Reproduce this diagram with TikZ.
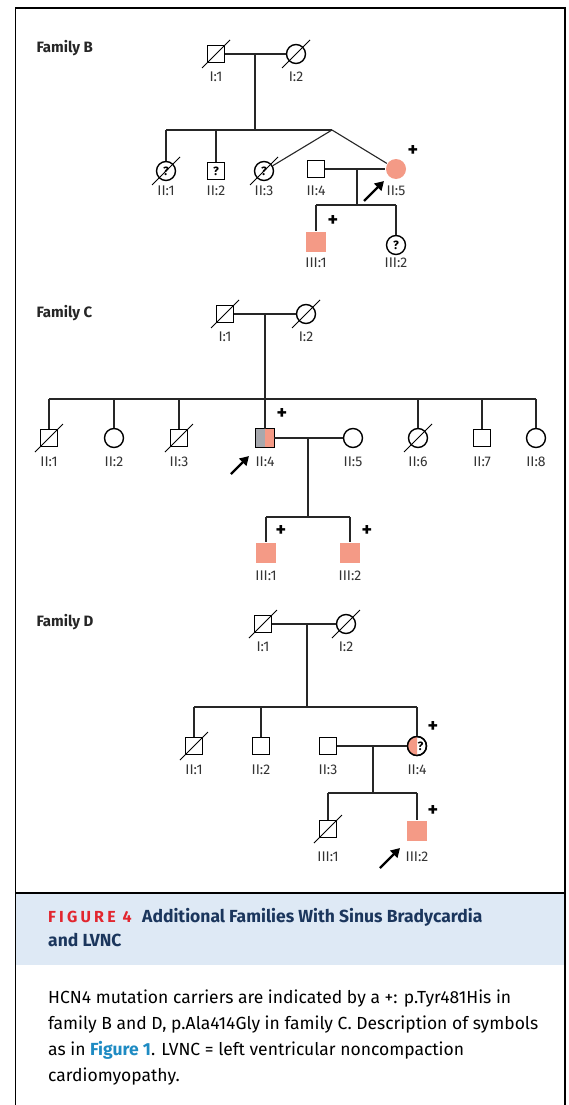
\documentclass[tikz,border=0pt]{standalone}
\usepackage{fontspec}
\setmainfont{Fira Sans}
\usetikzlibrary{arrows.meta}
\definecolor{salmon}{HTML}{F49A86}
\definecolor{affgray}{HTML}{A7A8AD}
\definecolor{capblue}{HTML}{DEE9F5}
\definecolor{figred}{HTML}{E2262F}
\definecolor{navy}{HTML}{1B365D}
\definecolor{linkblue}{HTML}{1E8BC3}
\newcommand\dslash[1]{\draw[decl] ([shift={(-14,14)}]#1.center) -- ([shift={(14,-14)}]#1.center);}
\newcommand\plab[3]{\node[lbl] (l#1) at ([shift={(0,#3)}]#1.center) {#2};}
\begin{document}
\begin{tikzpicture}[x=1pt,y=-1pt,
  sym/.style={draw=black,line width=1.4pt,inner sep=0pt,font=\bfseries\fontsize{12}{12}\selectfont},
  male/.style={sym,rectangle,minimum size=17.5pt},
  female/.style={sym,circle,minimum size=19pt},
  aff/.style={fill=salmon,draw=none,minimum size=20pt},
  rel/.style={line width=1.1pt,draw=black!85},
  decl/.style={line width=0.9pt,draw=black},
  lbl/.style={font=\fontsize{14}{15}\selectfont,text=black!80},
  pl/.style={font=\bfseries\fontsize{20}{20}\selectfont},
  prob/.style={line width=2.3pt,-{Triangle[length=9pt,width=10pt]}},
  fam/.style={font=\bfseries\fontsize{15}{16}\selectfont,text=black!85,anchor=west}]
\useasboundingbox (0,0) rectangle (568,1105);
\fill[white] (0,0) rectangle (568,1105);
% frame and caption
\fill[capblue] (16.3,893.8) rectangle (564.2,965);
\draw[line width=1.6pt] (15.5,1105) -- (15.5,8) -- (565,8) -- (565,1105);
\draw[line width=1.3pt] (15.5,893) -- (565,893);
\node[anchor=base west,inner sep=0pt,font=\bfseries\fontsize{17.5}{18}\selectfont] (capT) at (48,922)
  {{\color{figred}\fontsize{16}{18}\selectfont\addfontfeatures{LetterSpace=20}FIGURE 4}\hspace{0.6em}{\color{navy}Additional Families With Sinus Bradycardia}};
\node[anchor=base west,inner sep=0pt,font=\bfseries\fontsize{17.5}{18}\selectfont,text=navy] (capT2) at (48,946) {and LVNC};
\node[anchor=base west,inner sep=0pt,font=\fontsize{17.5}{18}\selectfont] (cap1) at (48,1003) {HCN4 mutation carriers are indicated by a +: p.Tyr481His in};
\node[anchor=base west,inner sep=0pt,font=\fontsize{17.5}{18}\selectfont] (cap2) at (48,1029) {family B and D, p.Ala414Gly in family C. Description of symbols};
\node[anchor=base west,inner sep=0pt,font=\fontsize{17.5}{18}\selectfont] (cap3) at (48,1055) {as in {\color{linkblue}\bfseries Figure 1}. LVNC = left ventricular noncompaction};
\node[anchor=base west,inner sep=0pt,font=\fontsize{17.5}{18}\selectfont] (cap4) at (48,1081) {cardiomyopathy.};

% ---------------- Family B
\node[fam] (famB) at (33,48) {Family B};
\node[male] (BI1) at (216,54) {};
\node[female] (BI2) at (296,54) {};
\dslash{BI1}\dslash{BI2}
\coordinate (Bm1) at (255,54);
\coordinate (Bs1) at (255,130);
\coordinate (BsL) at (166,130);
\coordinate (Btw) at (332,130);
\draw[rel] (BI1) -- (BI2);
\draw[rel] (Bm1) -- (Bs1);
\draw[rel] (BsL) -- (Btw);
\node[female] (BII1) at (166,171) {?};
\node[male] (BII2) at (216,171) {?};
\node[female] (BII3) at (264,171) {?};
\node[male] (BII4) at (316,169) {};
\node[female,aff] (BII5) at (396,169) {};
\draw[rel] (BsL) -- (BII1);
\draw[rel] (BII2) -- (BII2 |- Bs1);
\draw[rel] (Btw) -- (BII3);
\draw[rel] (Btw) -- (BII5);
\dslash{BII1}\dslash{BII3}
\draw[rel] (BII4) -- (BII5);
\coordinate (Bm2) at (357,169);
\coordinate (Bs2) at (357,205);
\coordinate (Bs2L) at (316,205);
\coordinate (Bs2R) at (396,205);
\draw[rel] (Bm2) -- (Bs2);
\draw[rel] (Bs2L) -- (Bs2R);
\node[male,aff] (BIII1) at (316,242) {};
\node[female] (BIII2) at (396,245) {?};
\draw[rel] (Bs2L) -- (BIII1);
\draw[rel] (Bs2R) -- (BIII2);
\plab{BI1}{I:1}{23}\plab{BI2}{I:2}{23}
\plab{BII1}{II:1}{20}\plab{BII2}{II:2}{20}\plab{BII3}{II:3}{20}
\plab{BII4}{II:4}{22}\plab{BII5}{II:5}{22}
\plab{BIII1}{III:1}{21}\plab{BIII2}{III:2}{18}
\node[pl] (pB5) at (413,151) {+};
\node[pl] (pB31) at (333,221) {+};
\coordinate (aBt) at (364,201);
\coordinate (aBh) at (384,181);
\draw[prob] (aBt) -- (aBh);

% ---------------- Family C
\node[fam] (famC) at (33,313) {Family C};
\node[male] (CI1) at (225,314) {};
\node[female] (CI2) at (306,314) {};
\dslash{CI1}\dslash{CI2}
\draw[rel] (CI1) -- (CI2);
\coordinate (Cm1) at (265,314);
\coordinate (Cs1) at (265,399);
\coordinate (CsL) at (49,399);
\coordinate (CsR) at (536,399);
\draw[rel] (Cm1) -- (Cs1);
\draw[rel] (CsL) -- (CsR);
\node[male] (CII1) at (49,438) {};
\node[female] (CII2) at (114,438) {};
\node[male] (CII3) at (179,438) {};
\node[male] (CII4) at (265,438) {};
\node[female] (CII5) at (353,438) {};
\node[female] (CII6) at (418,438) {};
\node[male] (CII7) at (482,438) {};
\node[female] (CII8) at (536,438) {};
\fill[affgray] (CII4.south west) rectangle (CII4.north);
\fill[salmon] (CII4.north) rectangle (CII4.south east);
\draw[line width=1.4pt] (CII4.south west) rectangle (CII4.north east);
\foreach \n in {CII1,CII2,CII3,CII4,CII6,CII7,CII8} {\draw[rel] (\n) -- (\n |- Cs1);}
\dslash{CII1}\dslash{CII3}\dslash{CII6}
\draw[rel] (CII4) -- (CII5);
\coordinate (Cm2) at (308,438);
\coordinate (Cs2) at (308,517);
\coordinate (Cs2L) at (266,517);
\coordinate (Cs2R) at (350,517);
\draw[rel] (Cm2) -- (Cs2);
\draw[rel] (Cs2L) -- (Cs2R);
\node[male,aff] (CIII1) at (266,553) {};
\node[male,aff] (CIII2) at (350,553) {};
\draw[rel] (Cs2L) -- (CIII1);
\draw[rel] (Cs2R) -- (CIII2);
\plab{CI1}{I:1}{23}\plab{CI2}{I:2}{23}
\plab{CII1}{II:1}{24}\plab{CII2}{II:2}{24}\plab{CII3}{II:3}{24}\plab{CII4}{II:4}{24}
\plab{CII5}{II:5}{24}\plab{CII6}{II:6}{24}\plab{CII7}{II:7}{24}\plab{CII8}{II:8}{24}
\plab{CIII1}{III:1}{23}\plab{CIII2}{III:2}{23}
\node[pl] (pC4) at (282,414) {+};
\node[pl] (pC31) at (281,531) {+};
\node[pl] (pC32) at (367,531) {+};
\coordinate (aCt) at (231,474);
\coordinate (aCh) at (249,456);
\draw[prob] (aCt) -- (aCh);

% ---------------- Family D
\node[fam] (famD) at (33,622) {Family D};
\node[male] (DI1) at (263,624) {};
\node[female] (DI2) at (346,624) {};
\dslash{DI1}\dslash{DI2}
\draw[rel] (DI1) -- (DI2);
\coordinate (Dm1) at (307,624);
\coordinate (Ds1) at (307,707);
\coordinate (DsL) at (194,707);
\coordinate (DsR) at (417,707);
\draw[rel] (Dm1) -- (Ds1);
\draw[rel] (DsL) -- (DsR);
\node[male] (DII1) at (194,746) {};
\node[male] (DII2) at (261,746) {};
\node[male] (DII3) at (328,746) {};
\node[female] (DII4) at (417,746) {};
\begin{scope}
\clip ([shift={(-12,-12)}]DII4.center) rectangle ([shift={(0,12)}]DII4.center);
\fill[salmon] (DII4.center) circle[radius=9.4pt];
\end{scope}
\draw[line width=1.4pt] (DII4.center) circle[radius=9.5pt];
\node[font=\bfseries\fontsize{12}{12}\selectfont,inner sep=0pt] (DII4q) at ([shift={(3.5,0)}]DII4.center) {?};
\draw[rel] (DII1) -- (DII1 |- Ds1);
\draw[rel] (DII2) -- (DII2 |- Ds1);
\draw[rel] (DII4) -- (DII4 |- Ds1);
\dslash{DII1}
\draw[rel] (DII3) -- (DII4);
\coordinate (Dm2) at (373,746);
\coordinate (Ds2) at (373,793);
\coordinate (Ds2L) at (328,793);
\coordinate (Ds2R) at (417,793);
\draw[rel] (Dm2) -- (Ds2);
\draw[rel] (Ds2L) -- (Ds2R);
\node[male] (DIII1) at (328,829) {};
\node[male,aff] (DIII2) at (417,831) {};
\draw[rel] (Ds2L) -- (DIII1);
\draw[rel] (Ds2R) -- (DIII2);
\dslash{DIII1}
\plab{DI1}{I:1}{23}\plab{DI2}{I:2}{23}
\plab{DII1}{II:1}{24}\plab{DII2}{II:2}{24}\plab{DII3}{II:3}{24}\plab{DII4}{II:4}{24}
\plab{DIII1}{III:1}{28}\plab{DIII2}{III:2}{26}
\node[pl] (pD4) at (433,727) {+};
\node[pl] (pD32) at (433,811) {+};
\coordinate (aDt) at (380,868);
\coordinate (aDh) at (400,848);
\draw[prob] (aDt) -- (aDh);
\end{tikzpicture}
\end{document}
